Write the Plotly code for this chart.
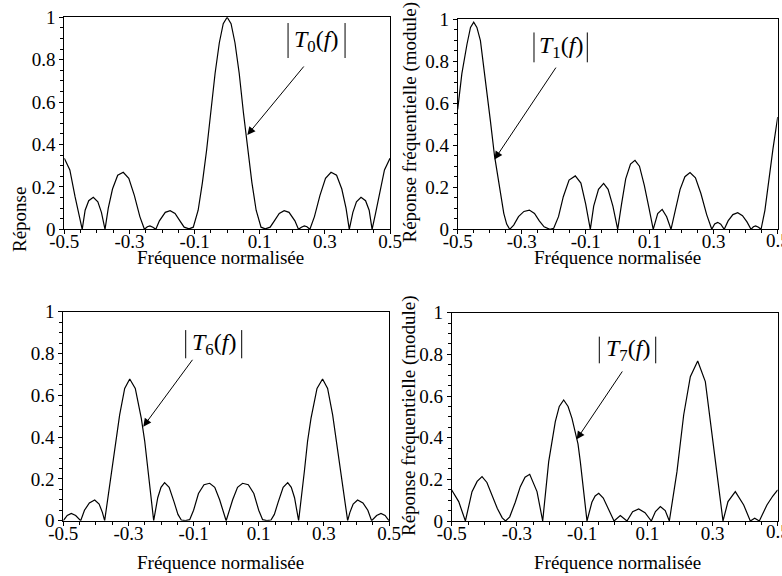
import plotly.graph_objects as go

# ---------------- data ----------------
t0_x = [-0.5, -0.483, -0.467, -0.455, -0.445, -0.436, -0.425, -0.411, -0.397, -0.386, -0.375,
        -0.365, -0.352, -0.336, -0.319, -0.302, -0.285, -0.268, -0.254, -0.245, -0.237, -0.228,
        -0.219, -0.208, -0.19, -0.175, -0.16, -0.145, -0.132, -0.117, -0.104, -0.089, -0.076,
        -0.063, -0.05, -0.037, -0.024, -0.012, 0.0,
        0.012, 0.024, 0.037, 0.05, 0.063, 0.076, 0.089, 0.104, 0.117, 0.132, 0.145, 0.16, 0.175,
        0.19, 0.208, 0.219, 0.228, 0.237, 0.245, 0.254, 0.268, 0.285, 0.302, 0.319, 0.336, 0.352,
        0.365, 0.375, 0.386, 0.397, 0.411, 0.425, 0.436, 0.445, 0.455, 0.467, 0.483, 0.5]
t0_y = [0.335, 0.28, 0.154, 0.07, 0.0, 0.09, 0.135, 0.151, 0.13, 0.08, 0.0,
        0.10, 0.19, 0.255, 0.269, 0.24, 0.16, 0.06, 0.0, 0.012, 0.016, 0.01,
        0.0, 0.04, 0.08, 0.088, 0.075, 0.04, 0.01, 0.002, 0.01, 0.09, 0.22,
        0.374, 0.55, 0.736, 0.88, 0.97, 1.0,
        0.97, 0.88, 0.736, 0.55, 0.374, 0.22, 0.09, 0.01, 0.002, 0.01, 0.04, 0.075, 0.088,
        0.08, 0.04, 0.0, 0.01, 0.016, 0.012, 0.0, 0.06, 0.16, 0.24, 0.269, 0.255, 0.19,
        0.10, 0.0, 0.08, 0.13, 0.151, 0.135, 0.09, 0.0, 0.07, 0.154, 0.28, 0.335]

t1_x = [-0.5, -0.487, -0.471, -0.46, -0.45, -0.44, -0.429, -0.414, -0.398, -0.385, -0.372,
        -0.356, -0.347, -0.3375, -0.325, -0.31, -0.293, -0.276, -0.26, -0.245, -0.23, -0.212,
        -0.2, -0.185, -0.17, -0.152, -0.1325, -0.115, -0.1, -0.0856, -0.075, -0.06, -0.044,
        -0.03, -0.015, 0.0, 0.012, 0.025, 0.04, 0.054, 0.068, 0.083, 0.098, 0.111, 0.125,
        0.139, 0.153, 0.1666, 0.18, 0.195, 0.21, 0.226, 0.243, 0.26, 0.278, 0.294, 0.303,
        0.3125, 0.322, 0.333, 0.345, 0.36, 0.375, 0.39, 0.404, 0.4166, 0.424, 0.431, 0.44,
        0.448, 0.46, 0.4706, 0.485, 0.5]
t1_y = [0.57, 0.74, 0.88, 0.96, 0.985, 0.96, 0.897, 0.723, 0.518, 0.35, 0.234,
        0.076, 0.025, 0.0, 0.02, 0.06, 0.085, 0.0915, 0.075, 0.04, 0.012, 0.0,
        0.005, 0.06, 0.155, 0.234, 0.254, 0.22, 0.12, 0.0, 0.11, 0.19, 0.218,
        0.19, 0.11, 0.0, 0.12, 0.24, 0.31, 0.328, 0.30, 0.21, 0.1, 0.0, 0.075,
        0.095, 0.06, 0.0, 0.09, 0.19, 0.25, 0.27, 0.245, 0.17, 0.07, 0.0, 0.025,
        0.033, 0.024, 0.0, 0.04, 0.07, 0.079, 0.065, 0.035, 0.0, 0.012, 0.016, 0.01,
        0.0, 0.09, 0.218, 0.38, 0.534]

t6_x = [-0.5, -0.488, -0.4754, -0.462, -0.4466, -0.435, -0.42, -0.4036, -0.39, -0.38, -0.373,
        -0.3526, -0.34, -0.327, -0.3115, -0.296, -0.279, -0.2605, -0.25, -0.24, -0.2225,
        -0.21, -0.2, -0.189, -0.175, -0.16, -0.148, -0.1377, -0.125, -0.112, -0.1, -0.085,
        -0.068, -0.0505, -0.035, -0.02, 0.0,
        0.02, 0.035, 0.0505, 0.068, 0.085, 0.1, 0.112, 0.125, 0.1377, 0.148, 0.16, 0.175,
        0.189, 0.2, 0.21, 0.2225, 0.24, 0.25, 0.2605, 0.279, 0.296, 0.3115, 0.327, 0.34,
        0.3526, 0.373, 0.38, 0.39, 0.4036, 0.42, 0.435, 0.4466, 0.462, 0.4754, 0.488, 0.5]
t6_y = [0.0, 0.025, 0.035, 0.025, 0.0, 0.05, 0.085, 0.099, 0.08, 0.04, 0.0,
        0.234, 0.36, 0.506, 0.633, 0.678, 0.633, 0.49, 0.38, 0.234, 0.0,
        0.11, 0.16, 0.182, 0.16, 0.09, 0.03, 0.003, 0.0, 0.005, 0.05, 0.13,
        0.172, 0.179, 0.16, 0.1, 0.0,
        0.1, 0.16, 0.179, 0.172, 0.13, 0.05, 0.005, 0.0, 0.003, 0.03, 0.09, 0.16,
        0.182, 0.16, 0.11, 0.0, 0.234, 0.38, 0.49, 0.633, 0.678, 0.633, 0.506, 0.36,
        0.234, 0.0, 0.04, 0.08, 0.099, 0.085, 0.05, 0.0, 0.025, 0.035, 0.025, 0.0]

t7_x = [-0.5, -0.4785, -0.458, -0.4377, -0.422, -0.407, -0.392, -0.3764, -0.36, -0.345,
        -0.3348, -0.322, -0.305, -0.2896, -0.275, -0.2607, -0.2383, -0.2209, -0.2025, -0.1822,
        -0.17, -0.1565, -0.143, -0.131, -0.1126, -0.1055, -0.085, -0.07, -0.06, -0.049, -0.035,
        -0.02, -0.002, 0.0172, 0.0377, 0.055, 0.0736, 0.093, 0.1123, 0.125, 0.14, 0.155,
        0.1676, 0.191, 0.2116, 0.232, 0.2546, 0.278, 0.2985, 0.3169, 0.3322, 0.3475, 0.37,
        0.3957, 0.416, 0.4295, 0.4436, 0.467, 0.485, 0.5]
t7_y = [0.149, 0.093, 0.0, 0.141, 0.19, 0.213, 0.185, 0.125, 0.06, 0.015,
        0.0, 0.02, 0.09, 0.165, 0.21, 0.224, 0.141, 0.0, 0.285, 0.477,
        0.55, 0.581, 0.55, 0.493, 0.37, 0.285, 0.0, 0.09, 0.12, 0.133, 0.11,
        0.06, 0.0, 0.026, 0.0, 0.045, 0.058, 0.04, 0.0, 0.045, 0.069, 0.05,
        0.0, 0.237, 0.509, 0.693, 0.768, 0.669, 0.429, 0.189, 0.0, 0.093, 0.141,
        0.077, 0.0, 0.013, 0.0, 0.077, 0.12, 0.149]

x_tickvals = [-0.5, -0.3, -0.1, 0.1, 0.3, 0.5]
x_ticktext = ["-0.5", "-0.3", "-0.1", "0.1", "0.3", "0.5"]
y_tickvals = [0, 0.2, 0.4, 0.6, 0.8, 1]
y_ticktext = ["0", "0.2", "0.4", "0.6", "0.8", "1"]

labels = ["0", "1", "6", "7"]
x_title = "Fréquence normalisée"
y_title = "Réponse fréquentielle (module)"
y_title_short = "Réponse"

# ---------------- figure ----------------
W, H = 782, 576
FONT = "Liberation Serif, Times New Roman, serif"

def px_x(p):
    return p / W

def px_y(p):
    return 1 - p / H

# plot boxes in pixels: (left, right, top, bottom)
boxes = [(64.3, 390.0, 17.3, 229.3),
         (457.7, 777.7, 19.0, 229.3),
         (63.3, 389.0, 311.7, 520.7),
         (451.7, 777.7, 312.7, 521.0)]

series = [(t0_x, t0_y), (t1_x, t1_y), (t6_x, t6_y), (t7_x, t7_y)]

fig = go.Figure()
layout = dict(width=W, height=H, margin=dict(l=0, r=0, t=0, b=0, autoexpand=False),
              paper_bgcolor="white", plot_bgcolor="white", showlegend=False,
              font=dict(family=FONT, color="black", size=19))

axis_common = dict(showline=True, mirror=True, linecolor="black", linewidth=1,
                   showgrid=False, zeroline=False, ticks="outside", ticklen=4,
                   tickcolor="black", tickwidth=1, automargin=False,
                   tickfont=dict(family=FONT, size=19, color="black"))

for i, ((xs, ys), (l, r, t, b)) in enumerate(zip(series, boxes)):
    n = "" if i == 0 else str(i + 1)
    fig.add_trace(go.Scatter(x=xs, y=ys, mode="lines",
                             line=dict(color="black", width=1.2),
                             xaxis="x" + n, yaxis="y" + n, hoverinfo="skip"))
    layout["xaxis" + n] = dict(axis_common, domain=[px_x(l), px_x(r)], range=[-0.5, 0.5],
                               anchor="y" + n, tickmode="array",
                               tickvals=x_tickvals, ticktext=x_ticktext,
                               ticklabelstandoff=-9,
                               minor=dict(tickmode="linear", tick0=0, dtick=0.05,
                                          ticks="outside", ticklen=3, tickcolor="black"))
    layout["yaxis" + n] = dict(axis_common, domain=[px_y(b), px_y(t)], range=[0, 1],
                               anchor="x" + n, tickmode="array",
                               tickvals=y_tickvals, ticktext=y_ticktext,
                               minor=dict(tickmode="linear", tick0=0, dtick=0.05,
                                          ticks="outside", ticklen=3, tickcolor="black"))

fig.update_layout(**layout)

# right-most tick label of the right-hand panels (cut by the page edge, as in the original)
for n, cy in [("2", 240.5), ("4", 531.5)]:
    fig.add_annotation(text=x_ticktext[-1], xref="x" + n, yref="paper", x=x_tickvals[-1],
                       y=px_y(cy), xanchor="center", yanchor="middle", showarrow=False,
                       font=dict(family=FONT, size=19, color="black"))

# x-axis titles
for cx, cy in [(220, 257), (617.5, 257), (220, 562), (617, 562)]:
    fig.add_annotation(text=x_title, xref="paper", yref="paper", x=px_x(cx), y=px_y(cy),
                       xanchor="center", yanchor="middle", showarrow=False,
                       font=dict(family=FONT, size=19, color="black"))

# y-axis titles
for txt, cx, cy in [(y_title_short, 19, 220), (y_title, 409, 121.5), (y_title, 409, 415)]:
    fig.add_annotation(text=txt, xref="paper", yref="paper", x=px_x(cx), y=px_y(cy),
                       xanchor="center", yanchor="middle", textangle=-90, showarrow=False,
                       font=dict(family=FONT, size=19, color="black"))

# labels |T_k(f)| with arrows (data coords of each panel)
label_pos = [  # (text center x, text y, bar left x, bar right x, bar top, bar bottom)
    (0.274, 0.89, 0.187, 0.362, 0.973, 0.808),
    (-0.178, 0.865, -0.2616, -0.095, 0.936, 0.794),
    (-0.038, 0.845, -0.1242, 0.0477, 0.912, 0.777),
    (0.04, 0.821, -0.0472, 0.1258, 0.885, 0.757),
]
arrows = [  # (tail x, tail y, head x, head y)
    (0.239, 0.775, 0.062, 0.445),
    (-0.19, 0.776, -0.385, 0.332),
    (-0.1, 0.777, -0.2544, 0.45),
    (0.0264, 0.725, -0.1166, 0.392),
]

for i, (lab, (cx, cy, bl, br, bt, bb), (tx, ty, hx, hy)) in enumerate(zip(labels, label_pos, arrows)):
    n = "" if i == 0 else str(i + 1)
    xr, yr = "x" + n, "y" + n
    fig.add_annotation(text="<i>T</i><sub>%s</sub>(<i>f</i>)" % lab, xref=xr, yref=yr,
                       x=cx, y=cy, xanchor="center", yanchor="middle", showarrow=False,
                       font=dict(family=FONT, size=24, color="black"))
    for bx in (bl, br):
        fig.add_shape(type="line", xref=xr, yref=yr, x0=bx, x1=bx, y0=bb, y1=bt,
                      line=dict(color="black", width=1))
    fig.add_annotation(text="", xref=xr, yref=yr, axref=xr, ayref=yr,
                       x=hx, y=hy, ax=tx, ay=ty, showarrow=True,
                       arrowhead=2, arrowsize=1.6, arrowwidth=1, arrowcolor="black")

fig.write_html("out.html", config={"displayModeBar": False},
               post_script="document.body.style.margin='0';document.body.style.overflow='hidden';")
